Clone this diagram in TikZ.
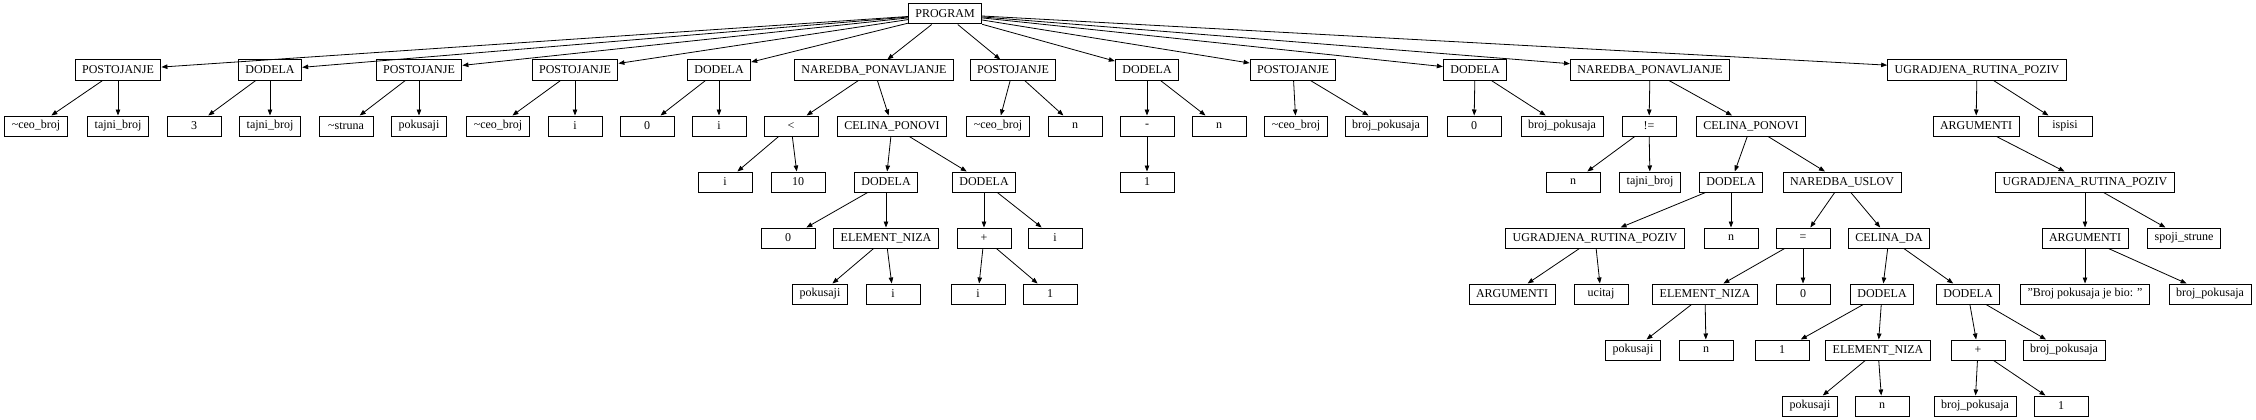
\documentclass[tikz,border=0pt]{standalone}
\usepackage{fontspec}
\setmainfont{Liberation Serif}
\usetikzlibrary{arrows.meta}
\begin{document}
\begin{tikzpicture}[x=1pt,y=-1pt,
  bx/.style={draw, line width=1pt, fill=white, font=\fontsize{12}{14}\selectfont, minimum width=54pt, minimum height=20pt, inner xsep=7pt, inner ysep=0pt, anchor=center},
  ed/.style={line width=0.8pt, -{Triangle[length=6pt,width=4.5pt]}}]
\useasboundingbox (0,0) rectangle (2256,420);
% level 0
\node[bx] (root) at (945,14) {PROGRAM};
% level 1
\node[bx] (a1) at (118,70) {POSTOJANJE};
\node[bx] (a2) at (270,70) {DODELA};
\node[bx] (a3) at (419,70) {POSTOJANJE};
\node[bx] (a4) at (575,70) {POSTOJANJE};
\node[bx] (a5) at (719,70) {DODELA};
\node[bx] (a6) at (874,70) {NAREDBA\_PONAVLJANJE};
\node[bx] (a7) at (1013,70) {POSTOJANJE};
\node[bx] (a8) at (1147,70) {DODELA};
\node[bx] (a9) at (1293,70) {POSTOJANJE};
\node[bx] (a10) at (1475,70) {DODELA};
\node[bx] (a11) at (1650,70) {NAREDBA\_PONAVLJANJE};
\node[bx] (a12) at (1977,70) {UGRADJENA\_RUTINA\_POZIV};
% level 2
\node[bx] (b1) at (36,126) {\textasciitilde ceo\_broj};
\node[bx] (b2) at (118,126) {tajni\_broj};
\node[bx] (b3) at (194,126) {3};
\node[bx] (b4) at (270,126) {tajni\_broj};
\node[bx] (b5) at (346,126) {\textasciitilde struna};
\node[bx] (b6) at (419,126) {pokusaji};
\node[bx] (b7) at (498,126) {\textasciitilde ceo\_broj};
\node[bx] (b8) at (575,126) {i};
\node[bx] (b9) at (647,126) {0};
\node[bx] (b10) at (719,126) {i};
\node[bx] (b11) at (791,126) {<};
\node[bx] (b12) at (892,126) {CELINA\_PONOVI};
\node[bx] (b13) at (998,126) {\textasciitilde ceo\_broj};
\node[bx] (b14) at (1075,126) {n};
\node[bx] (b15) at (1147,126) {-};
\node[bx] (b16) at (1219,126) {n};
\node[bx] (b17) at (1296,126) {\textasciitilde ceo\_broj};
\node[bx] (b18) at (1386,126) {broj\_pokusaja};
\node[bx] (b19) at (1474,126) {0};
\node[bx] (b20) at (1562,126) {broj\_pokusaja};
\node[bx] (b21) at (1649,126) {!=};
\node[bx] (b22) at (1751,126) {CELINA\_PONOVI};
\node[bx] (b23) at (1976,126) {ARGUMENTI};
\node[bx] (b24) at (2065,126) {ispisi};
% level 3
\node[bx] (c1) at (725,182) {i};
\node[bx] (c2) at (798,182) {10};
\node[bx] (c3) at (886,182) {DODELA};
\node[bx] (c4) at (984,182) {DODELA};
\node[bx] (c5) at (1147,182) {1};
\node[bx] (c6) at (1573,182) {n};
\node[bx] (c7) at (1650,182) {tajni\_broj};
\node[bx] (c8) at (1731,182) {DODELA};
\node[bx] (c9) at (1842,182) {NAREDBA\_USLOV};
\node[bx] (c10) at (2085,182) {UGRADJENA\_RUTINA\_POZIV};
% level 4
\node[bx] (d1) at (788,238) {0};
\node[bx] (d2) at (886,238) {ELEMENT\_NIZA};
\node[bx] (d3) at (984,238) {+};
\node[bx] (d4) at (1055,238) {i};
\node[bx] (d5) at (1595,238) {UGRADJENA\_RUTINA\_POZIV};
\node[bx] (d6) at (1731,238) {n};
\node[bx] (d7) at (1803,238) {=};
\node[bx] (d8) at (1889,238) {CELINA\_DA};
\node[bx] (d9) at (2085,238) {ARGUMENTI};
\node[bx] (d10) at (2184,238) {spoji\_strune};
% level 5
\node[bx] (e1) at (820,294) {pokusaji};
\node[bx] (e2) at (893,294) {i};
\node[bx] (e3) at (978,294) {i};
\node[bx] (e4) at (1050,294) {1};
\node[bx] (e5) at (1512,294) {ARGUMENTI};
\node[bx] (e6) at (1601,294) {ucitaj};
\node[bx] (e7) at (1705,294) {ELEMENT\_NIZA};
\node[bx] (e8) at (1803,294) {0};
\node[bx] (e9) at (1882,294) {DODELA};
\node[bx] (e10) at (1968,294) {DODELA};
\node[bx] (e11) at (2085,294) {"Broj pokusaja je bio: "};
\node[bx] (e12) at (2210,294) {broj\_pokusaja};
% level 6
\node[bx] (f1) at (1633,350) {pokusaji};
\node[bx] (f2) at (1706,350) {n};
\node[bx] (f3) at (1782,350) {1};
\node[bx] (f4) at (1878,350) {ELEMENT\_NIZA};
\node[bx] (f5) at (1978,350) {+};
\node[bx] (f6) at (2064,350) {broj\_pokusaja};
% level 7
\node[bx] (g1) at (1810,406) {pokusaji};
\node[bx] (g2) at (1882,406) {n};
\node[bx] (g3) at (1975,406) {broj\_pokusaja};
\node[bx] (g4) at (2061,406) {1};
% edges
\foreach \c in {a1,a2,a3,a4,a5,a6,a7,a8,a9,a10,a11,a12} \draw[ed] (root) -- (\c);
\foreach \p/\c in {a1/b1,a1/b2,a2/b3,a2/b4,a3/b5,a3/b6,a4/b7,a4/b8,a5/b9,a5/b10,a6/b11,a6/b12,a7/b13,a7/b14,a8/b15,a8/b16,a9/b17,a9/b18,a10/b19,a10/b20,a11/b21,a11/b22,a12/b23,a12/b24,
  b11/c1,b11/c2,b12/c3,b12/c4,b15/c5,b21/c6,b21/c7,b22/c8,b22/c9,b23/c10,
  c3/d1,c3/d2,c4/d3,c4/d4,c8/d5,c8/d6,c9/d7,c9/d8,c10/d9,c10/d10,
  d2/e1,d2/e2,d3/e3,d3/e4,d5/e5,d5/e6,d7/e7,d7/e8,d8/e9,d8/e10,d9/e11,d9/e12,
  e7/f1,e7/f2,e9/f3,e9/f4,e10/f5,e10/f6,
  f4/g1,f4/g2,f5/g3,f5/g4}
  \draw[ed] (\p) -- (\c);
\end{tikzpicture}
\end{document}
